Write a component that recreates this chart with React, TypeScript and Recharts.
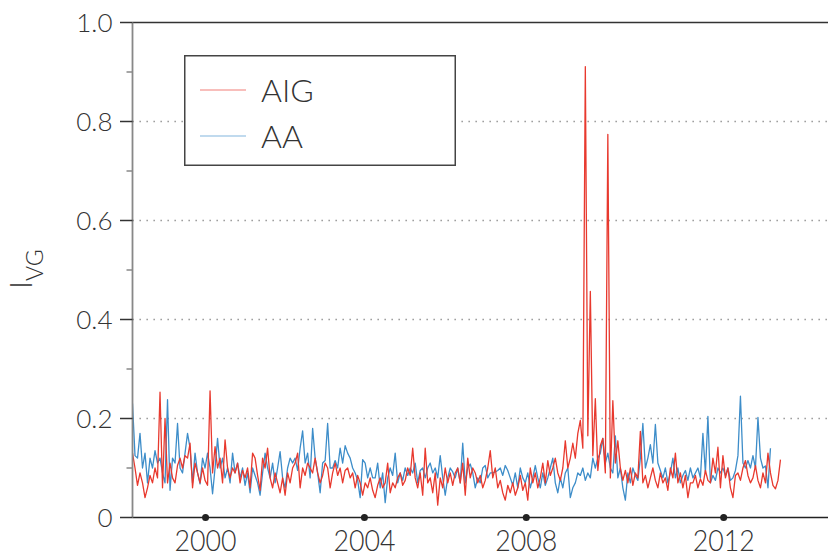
import React from 'react';
import { LineChart, Line, XAxis, YAxis, ReferenceLine, Legend } from 'recharts';

const FONT = "Lato, 'Open Sans', sans-serif";

// Point index along the time axis (16 samples per year)
const xMax = 278;
const xTickPos = [29.2, 92.7, 157.4, 236.3];
const xTickLabels = ['2000', '2004', '2008', '2012'];
const yTicks = [0, 0.1, 0.2, 0.3, 0.4, 0.5, 0.6, 0.7, 0.8, 0.9, 1.0];
const yTickLabels: Record<string, string> = { '0': '0', '0.2': '0.2', '0.4': '0.4', '0.6': '0.6', '0.8': '0.8', '1': '1.0' };
const gridValues = [0.2, 0.4, 0.6, 0.8];

const aig = [
  0.13, 0.10, 0.065, 0.09, 0.07, 0.04, 0.06, 0.085, 0.07, 0.10, 0.08, 0.253, 0.06, 0.20, 0.07, 0.11,
  0.08, 0.07, 0.105, 0.12, 0.10, 0.125, 0.12, 0.15, 0.06, 0.11, 0.09, 0.07, 0.10, 0.075, 0.065, 0.256,
  0.09, 0.143, 0.10, 0.12, 0.07, 0.157, 0.10, 0.08, 0.10, 0.09, 0.11, 0.07, 0.095, 0.08, 0.10, 0.06,
  0.13, 0.12, 0.085, 0.055, 0.12, 0.10, 0.14, 0.08, 0.06, 0.09, 0.07, 0.05, 0.08, 0.045, 0.09, 0.07,
  0.10, 0.11, 0.13, 0.06, 0.10, 0.085, 0.11, 0.10, 0.09, 0.12, 0.09, 0.07, 0.085, 0.11, 0.10, 0.06,
  0.09, 0.11, 0.085, 0.10, 0.07, 0.095, 0.10, 0.08, 0.09, 0.06, 0.085, 0.07, 0.045, 0.07, 0.06, 0.08,
  0.055, 0.04, 0.065, 0.08, 0.06, 0.07, 0.11, 0.05, 0.07, 0.06, 0.08, 0.09, 0.065, 0.075, 0.10, 0.085,
  0.14, 0.08, 0.06, 0.09, 0.045, 0.14, 0.07, 0.08, 0.05, 0.09, 0.025, 0.08, 0.06, 0.10, 0.07, 0.09,
  0.065, 0.09, 0.10, 0.07, 0.11, 0.045, 0.12, 0.08, 0.10, 0.09, 0.07, 0.085, 0.06, 0.075, 0.10, 0.135,
  0.08, 0.10, 0.06, 0.075, 0.05, 0.035, 0.065, 0.05, 0.07, 0.045, 0.06, 0.085, 0.055, 0.07, 0.035, 0.10,
  0.07, 0.09, 0.06, 0.08, 0.11, 0.07, 0.115, 0.085, 0.10, 0.12, 0.09, 0.075, 0.10, 0.155, 0.10, 0.12,
  0.15, 0.12, 0.17, 0.196, 0.14, 0.911, 0.165, 0.457, 0.125, 0.24, 0.095, 0.145, 0.16, 0.09, 0.774, 0.08,
  0.236, 0.11, 0.155, 0.10, 0.075, 0.095, 0.07, 0.10, 0.065, 0.09, 0.08, 0.174, 0.07, 0.085, 0.06, 0.08,
  0.10, 0.075, 0.06, 0.09, 0.07, 0.08, 0.055, 0.10, 0.08, 0.13, 0.07, 0.09, 0.06, 0.085, 0.04, 0.07,
  0.07, 0.085, 0.06, 0.078, 0.065, 0.095, 0.075, 0.07, 0.12, 0.09, 0.142, 0.06, 0.125, 0.08, 0.10, 0.06,
  0.04, 0.085, 0.09, 0.075, 0.10, 0.115, 0.085, 0.07, 0.08, 0.105, 0.075, 0.06, 0.09, 0.07, 0.13, 0.09,
  0.065, 0.058, 0.075, 0.117,
];

const aa = [
  0.23, 0.125, 0.12, 0.17, 0.10, 0.13, 0.07, 0.12, 0.10, 0.135, 0.11, 0.12, 0.09, 0.07, 0.238, 0.055,
  0.12, 0.11, 0.19, 0.10, 0.09, 0.13, 0.17, 0.14, 0.07, 0.13, 0.09, 0.068, 0.12, 0.10, 0.13, 0.10,
  0.048, 0.10, 0.16, 0.10, 0.12, 0.08, 0.10, 0.07, 0.13, 0.09, 0.11, 0.08, 0.10, 0.065, 0.09, 0.05,
  0.10, 0.085, 0.07, 0.045, 0.09, 0.13, 0.10, 0.08, 0.11, 0.07, 0.10, 0.133, 0.08, 0.06, 0.10, 0.12,
  0.11, 0.12, 0.095, 0.14, 0.175, 0.11, 0.13, 0.08, 0.18, 0.12, 0.09, 0.05, 0.11, 0.115, 0.19, 0.10,
  0.10, 0.115, 0.10, 0.14, 0.11, 0.145, 0.13, 0.12, 0.10, 0.09, 0.075, 0.04, 0.117, 0.11, 0.08, 0.10,
  0.08, 0.08, 0.11, 0.06, 0.09, 0.03, 0.08, 0.10, 0.085, 0.13, 0.07, 0.09, 0.075, 0.10, 0.085, 0.10,
  0.09, 0.11, 0.07, 0.095, 0.10, 0.08, 0.10, 0.11, 0.09, 0.10, 0.08, 0.125, 0.08, 0.045, 0.08, 0.10,
  0.092, 0.08, 0.10, 0.07, 0.15, 0.07, 0.10, 0.108, 0.09, 0.06, 0.08, 0.07, 0.10, 0.105, 0.08, 0.09,
  0.09, 0.092, 0.095, 0.10, 0.085, 0.105, 0.095, 0.08, 0.065, 0.09, 0.06, 0.10, 0.08, 0.07, 0.09, 0.06,
  0.08, 0.105, 0.08, 0.06, 0.09, 0.065, 0.08, 0.10, 0.12, 0.07, 0.05, 0.08, 0.06, 0.09, 0.10, 0.04,
  0.06, 0.07, 0.09, 0.085, 0.10, 0.075, 0.09, 0.08, 0.12, 0.10, 0.12, 0.13, 0.16, 0.11, 0.13, 0.10,
  0.09, 0.165, 0.08, 0.10, 0.06, 0.035, 0.09, 0.07, 0.10, 0.085, 0.075, 0.12, 0.19, 0.10, 0.12, 0.147,
  0.11, 0.188, 0.11, 0.095, 0.08, 0.10, 0.07, 0.09, 0.12, 0.08, 0.10, 0.07, 0.085, 0.095, 0.075, 0.10,
  0.08, 0.09, 0.10, 0.08, 0.17, 0.09, 0.204, 0.07, 0.085, 0.075, 0.10, 0.09, 0.10, 0.085, 0.10, 0.075,
  0.08, 0.095, 0.125, 0.245, 0.11, 0.10, 0.115, 0.10, 0.125, 0.10, 0.202, 0.12, 0.10, 0.104, 0.06, 0.14,
];

const RED = '#e8392e';
const BLUE = '#3d8dc9';

const aigData = aig.map((v, i) => ({ i, v }));
const aaData = aa.map((v, i) => ({ i, v }));

const XTick = (props: any) => {
  const { x, y, index } = props;
  return (
    <g>
      <circle cx={x} cy={y} r={3.5} fill="#222" />
      <text
        x={x}
        y={y + 33}
        textAnchor="middle"
        fontSize={30}
        fontFamily={FONT}
        fontWeight={300}
        fill="#333"
        textLength={62}
        lengthAdjust="spacingAndGlyphs"
      >
        {xTickLabels[index]}
      </text>
    </g>
  );
};

const YTick = (props: any) => {
  const { x, y, payload } = props;
  const v = Math.round(payload.value * 10);
  const major = v % 2 === 0;
  const label = yTickLabels[String(payload.value)];
  return (
    <g>
      <line
        x1={major ? x - 12.5 : x - 6}
        x2={x}
        y1={y}
        y2={y}
        stroke={major ? '#333' : '#888'}
        strokeWidth={1.5}
      />
      {major && (
        <text
          x={x - 20}
          y={y}
          dy="0.36em"
          textAnchor="end"
          fontSize={26}
          fontFamily={FONT}
          fontWeight={300}
          fill="#333"
        >
          {label}
        </text>
      )}
    </g>
  );
};

const YLabel = () => (
  <text
    x={31.5}
    y={289}
    transform="rotate(-90, 31.5, 289)"
    fontFamily={FONT}
    fontWeight={300}
    fill="#333"
  >
    <tspan fontSize={31}>I</tspan>
    <tspan fontSize={23} dy={11}>VG</tspan>
  </text>
);

const LegendBox = () => (
  <svg width={272} height={111} style={{ display: 'block' }}>
    <rect x={0.75} y={0.75} width={270.5} height={109.5} fill="#fff" stroke="#444" strokeWidth={1.5} />
    <line x1={16} x2={62} y1={35} y2={35} stroke={RED} strokeWidth={1.2} strokeOpacity={0.65} />
    <text x={77} y={46.5} fontSize={32} fontFamily={FONT} fontWeight={300} fill="#333">AIG</text>
    <line x1={16} x2={62} y1={81} y2={81} stroke={BLUE} strokeWidth={1.2} strokeOpacity={0.65} />
    <text x={77} y={92.5} fontSize={32} fontFamily={FONT} fontWeight={300} fill="#333">AA</text>
  </svg>
);

export default function App() {
  return (
    <div style={{ position: 'absolute', left: 0, top: 0, fontFamily: FONT }}>
      <LineChart width={828} height={557} margin={{ top: 22.5, right: 0, bottom: 0, left: 0 }}>
        {gridValues.map((g) => (
          <ReferenceLine key={g} y={g} stroke="#888" strokeWidth={1.3} strokeDasharray="1.3 5.7" />
        ))}
        <ReferenceLine y={1} stroke="#333" strokeWidth={1.5} />
        <XAxis
          dataKey="i"
          type="number"
          domain={[0, xMax]}
          ticks={xTickPos}
          interval={0}
          allowDataOverflow
          height={39.5}
          tickLine={false}
          tickSize={0}
          tickMargin={0}
          axisLine={{ stroke: '#222', strokeWidth: 1.5 }}
          tick={<XTick />}
        />
        <YAxis
          type="number"
          domain={[0, 1]}
          ticks={yTicks}
          interval={0}
          width={132.5}
          tickLine={false}
          tickSize={0}
          tickMargin={0}
          axisLine={{ stroke: '#888', strokeWidth: 1.8 }}
          tick={<YTick />}
          label={<YLabel />}
        />
        <Legend
          layout="vertical"
          align="center"
          verticalAlign="middle"
          wrapperStyle={{ left: 184, top: 55, width: 272, height: 111 }}
          content={() => <LegendBox />}
        />
        <Line
          data={aaData}
          dataKey="v"
          stroke={BLUE}
          strokeWidth={1.3}
          dot={false}
          isAnimationActive={false}
          strokeLinejoin="round"
        />
        <Line
          data={aigData}
          dataKey="v"
          stroke={RED}
          strokeWidth={1.3}
          dot={false}
          isAnimationActive={false}
          strokeLinejoin="round"
        />
      </LineChart>
    </div>
  );
}
